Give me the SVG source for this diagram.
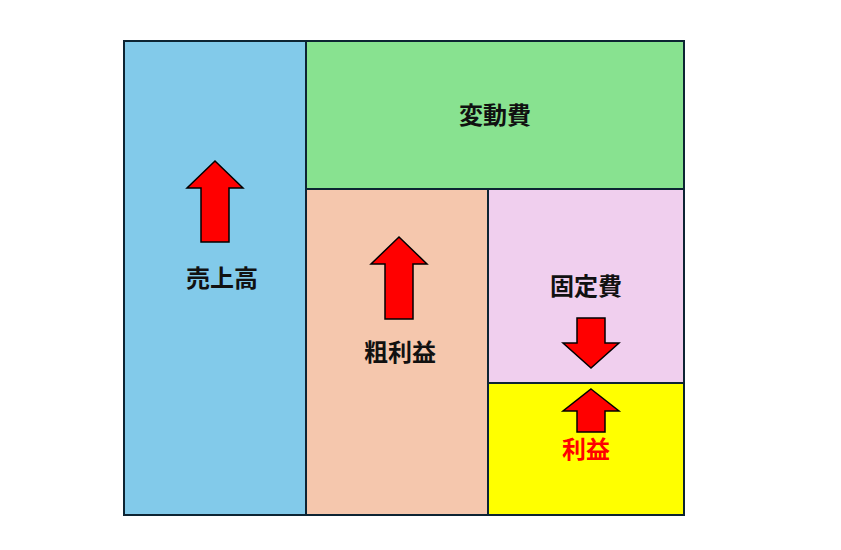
<svg xmlns="http://www.w3.org/2000/svg" width="841" height="550" viewBox="0 0 841 550">
<style>
.box{stroke:#0d2433;stroke-width:2}
.arrow{fill:#ff0000;stroke:#000;stroke-width:1.5;stroke-linejoin:miter}
.lbl{font-family:"Noto Sans CJK JP","Noto Sans",sans-serif;font-size:24px;font-weight:bold;text-anchor:middle;dominant-baseline:central;fill:#111}
</style>
<rect width="841" height="550" fill="#fff"/>
<g id="sales">
<rect class="box" x="124" y="41" width="182" height="474" fill="#82caea"/>
<polygon class="arrow" points="215,161 243,188 229,188 229,242 201,242 201,188 187,188"/>
<text class="lbl" x="222" y="276">売上高</text>
</g>
<g id="variable-cost">
<rect class="box" x="306" y="41" width="378" height="148" fill="#88e290"/>
<text class="lbl" x="495" y="113">変動費</text>
</g>
<g id="gross-profit">
<rect class="box" x="306" y="189" width="182" height="326" fill="#f5c7ad"/>
<polygon class="arrow" points="399,237 427,264 413,264 413,319 385,319 385,264 371,264"/>
<text class="lbl" x="400" y="350">粗利益</text>
</g>
<g id="fixed-cost">
<rect class="box" x="488" y="189" width="196" height="194" fill="#f0cfee"/>
<text class="lbl" x="586" y="284">固定費</text>
<polygon class="arrow" points="577,318 605,318 605,343 619,343 591,368 563,343 577,343"/>
</g>
<g id="profit">
<rect class="box" x="488" y="383" width="196" height="132" fill="#ffff00"/>
<polygon class="arrow" points="591,389 619,411 605,411 605,432 577,432 577,411 563,411"/>
<text class="lbl" x="586" y="447" style="fill:#ff0000">利益</text>
</g>
<g id="connectors"></g>
</svg>
